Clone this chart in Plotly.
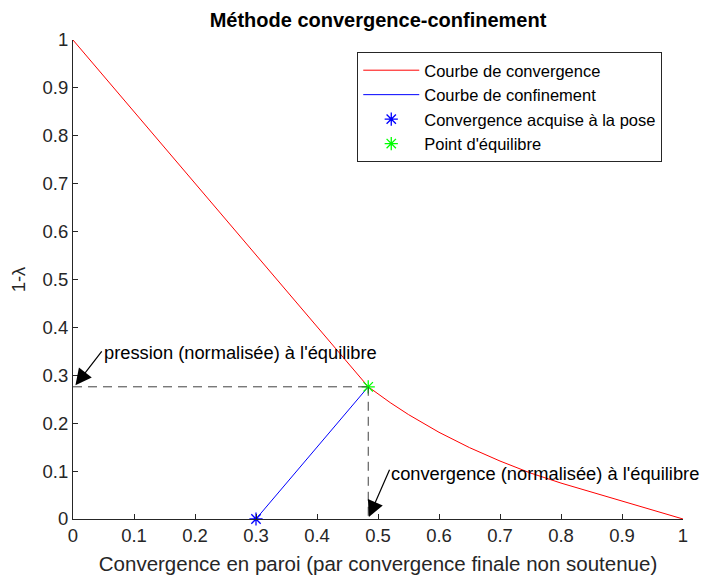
import plotly.graph_objects as go

# Courbe de convergence (1-lambda vs convergence normalisée)
conv_x = [0.0, 0.1, 0.2, 0.3, 0.4, 0.45, 0.484, 0.52, 0.55, 0.6, 0.65, 0.7, 0.75, 0.8, 0.85, 0.9, 0.95, 1.0]
conv_y = [1.0, 0.85, 0.70, 0.55, 0.40, 0.325, 0.276, 0.243, 0.218, 0.181, 0.149, 0.121, 0.096, 0.075, 0.056, 0.038, 0.019, 0.0]

# Courbe de confinement
conf_x = [0.30, 0.484]
conf_y = [0.0, 0.276]

# Points
pose_x, pose_y = [0.30], [0.0]
eq_x, eq_y = [0.484], [0.276]

tick_vals = [0, 0.1, 0.2, 0.3, 0.4, 0.5, 0.6, 0.7, 0.8, 0.9, 1]
tick_text = ["0", "0.1", "0.2", "0.3", "0.4", "0.5", "0.6", "0.7", "0.8", "0.9", "1"]

FONT = "Liberation Sans, Arial, sans-serif"
AX = "#262626"

fig = go.Figure()
fig.add_trace(go.Scatter(x=conv_x, y=conv_y, mode="lines", name="Courbe de convergence",
                         line=dict(color="#FF0000", width=1), cliponaxis=False))
fig.add_trace(go.Scatter(x=conf_x, y=conf_y, mode="lines", name="Courbe de confinement",
                         line=dict(color="#0000FF", width=1), cliponaxis=False))
fig.add_trace(go.Scatter(x=pose_x, y=pose_y, mode="markers",
                         name="Convergence acquise à la pose",
                         marker=dict(symbol="asterisk-open", size=11, color="#0000FF",
                                     line=dict(color="#0000FF", width=1.3)), cliponaxis=False))
fig.add_trace(go.Scatter(x=eq_x, y=eq_y, mode="markers", name="Point d'équilibre",
                         marker=dict(symbol="asterisk-open", size=11, color="#00FF00",
                                     line=dict(color="#00FF00", width=1.3)), cliponaxis=False))

# dashed guide lines
fig.add_trace(go.Scatter(x=[0, eq_x[0]], y=[eq_y[0], eq_y[0]], mode="lines", showlegend=False,
                         line=dict(color="#404040", width=1, dash="9px,6px"), hoverinfo="skip"))
fig.add_trace(go.Scatter(x=[eq_x[0], eq_x[0]], y=[eq_y[0], 0], mode="lines", showlegend=False,
                         line=dict(color="#404040", width=1, dash="9px,6px"), hoverinfo="skip"))

# arrows
fig.add_annotation(x=0.004, y=eq_y[0] + 0.003, ax=0.049, ay=0.353, xref="x", yref="y",
                   axref="x", ayref="y", text="", showarrow=True, arrowhead=2, arrowsize=2.7,
                   arrowwidth=1.2, arrowcolor="black")
fig.add_annotation(x=eq_x[0] + 0.001, y=0.004, ax=0.52, ay=0.106, xref="x", yref="y",
                   axref="x", ayref="y", text="", showarrow=True, arrowhead=2, arrowsize=2.7,
                   arrowwidth=1.2, arrowcolor="black")
fig.add_annotation(x=0.047, y=0.347, xref="x", yref="y", xanchor="left", yanchor="middle",
                   text="pression (normalisée) à l'équilibre", showarrow=False,
                   font=dict(family=FONT, size=18.3, color="black"))
fig.add_annotation(x=0.518, y=0.096, xref="x", yref="y", xanchor="left", yanchor="middle",
                   text="convergence (normalisée) à l'équilibre", showarrow=False,
                   font=dict(family=FONT, size=18.3, color="black"))

fig.update_layout(
    width=708, height=578,
    margin=dict(l=65, r=33, t=32, b=67, autoexpand=False),
    paper_bgcolor="white", plot_bgcolor="white",
    font=dict(family=FONT, color=AX),
    title=dict(text="<b>Méthode convergence-confinement</b>", x=370/708, xanchor="center",
               y=1 - 12/578, yanchor="middle", yref="container",
               font=dict(family=FONT, size=20, color="black")),
    showlegend=True,
    legend=dict(x=0.466, y=0.975, xanchor="left", yanchor="top",
                bgcolor="white", bordercolor=AX, borderwidth=1,
                font=dict(family=FONT, size=16.5, color="black"),
                tracegroupgap=0, itemwidth=56),
)
fig.update_xaxes(range=[0, 1], tickvals=tick_vals, ticktext=tick_text, ticks="inside", ticklen=5,
                 tickcolor=AX, showline=True, linecolor=AX, linewidth=1, showgrid=False, zeroline=False,
                 mirror=False, automargin=False, tickfont=dict(family=FONT, size=18.5, color=AX),
                 title=dict(text="Convergence en paroi (par convergence finale non soutenue)",
                            font=dict(family=FONT, size=20.5, color=AX), standoff=11))
fig.update_yaxes(range=[0, 1], tickvals=tick_vals, ticktext=tick_text, ticks="inside", ticklen=5,
                 tickcolor=AX, showline=True, linecolor=AX, linewidth=1, showgrid=False, zeroline=False,
                 mirror=False, automargin=False, tickfont=dict(family=FONT, size=18.5, color=AX),
                 title=dict(text="1-λ", font=dict(family=FONT, size=18.5, color=AX), standoff=12))

fig.write_html("out.html")
